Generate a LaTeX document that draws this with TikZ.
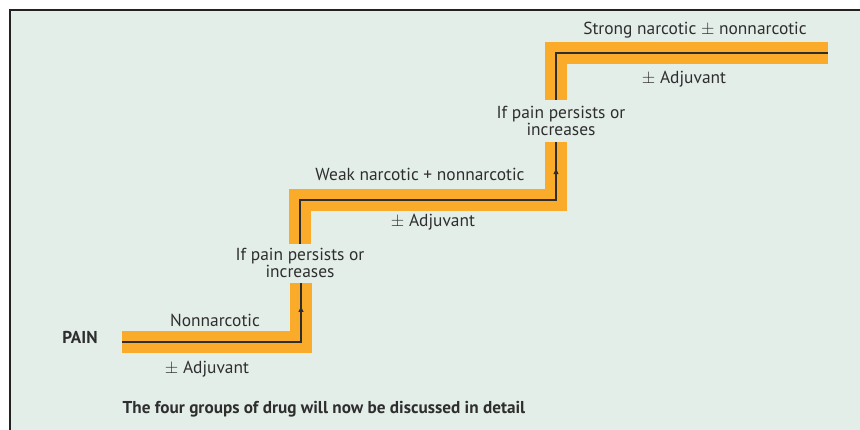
\documentclass[tikz,border=0pt]{standalone}
\usepackage{fontspec}
\setmainfont{PT Sans}
\usetikzlibrary{arrows.meta,calc}
\definecolor{bgcol}{HTML}{E4EEE9}
\definecolor{bandorange}{HTML}{FAAB2A}
\definecolor{inkcol}{HTML}{2E2E2E}
\definecolor{framecol}{HTML}{222222}
\newcommand{\pmsign}{\raisebox{0.3pt}{$\pm$}}
\begin{document}
\begin{tikzpicture}[x=1pt,y=-1pt,
  band/.style={line width=22pt, draw=bandorange, line cap=butt, line join=miter},
  guide/.style={line width=1.1pt, draw=inkcol, line cap=butt, line join=miter},
  uparrow/.style={draw=inkcol, line width=1.1pt, -{Latex[length=6.5pt,width=5.5pt]}},
  lbl/.style={font=\fontsize{17.4}{17}\selectfont, text=inkcol, inner sep=0pt, align=center},
  blbl/.style={font=\fontsize{17.2}{17}\selectfont\bfseries, text=inkcol, inner sep=0pt}]
\useasboundingbox (0,0) rectangle (860,430);
\fill[bgcol] (10,10) rectangle (860,430);
\draw[line width=1.5pt, framecol] (10,430) -- (10,10) -- (860,10);
% path points
\coordinate (a0) at (122,342);
\coordinate (a1) at (301,342);
\coordinate (a2) at (301,283);
\coordinate (b0) at (300,244);
\coordinate (b1) at (300,200);
\coordinate (b2) at (556,200);
\coordinate (b3) at (556,142);
\coordinate (c0) at (556,100);
\coordinate (c1) at (556,53);
\coordinate (c2) at (828,53);
% bands
\draw[band] (a0) -- (a1) -- (a2);
\draw[band] (b0) -- (b1) -- (b2) -- (b3);
\draw[band] (c0) -- (c1) -- (c2);
% guide lines
\draw[guide] (a0) -- (a1) -- (a2);
\draw[guide] (b0) -- (b1) -- (b2) -- (b3);
\draw[guide] (c0) -- (c1) -- (c2);
\draw[uparrow] (a1) -- ($(a1)!0.62!(a2)$);
\draw[uparrow] (b2) -- ($(b2)!0.56!(b3)$);
% texts
\node[blbl] (pain) at (80,337) {PAIN};
\node[lbl] (s1top) at (215,320) {Nonnarcotic};
\node[lbl] (s1bot) at (207,369) {\pmsign\ Adjuvant};
\node[lbl] (esc1) at (300,262.5) {If pain persists or\\increases};
\node[lbl] (s2top) at (420,174) {Weak narcotic + nonnarcotic};
\node[lbl] (s2bot) at (433,222) {\pmsign\ Adjuvant};
\node[lbl] (esc2) at (561,120.5) {If pain persists or\\increases};
\node[lbl] (s3top) at (695,30) {Strong narcotic \pmsign\ nonnarcotic};
\node[lbl] (s3bot) at (684,79) {\pmsign\ Adjuvant};
\node[blbl] (note) at (324,409) {The four groups of drug will now be discussed in detail};
\end{tikzpicture}
\end{document}
